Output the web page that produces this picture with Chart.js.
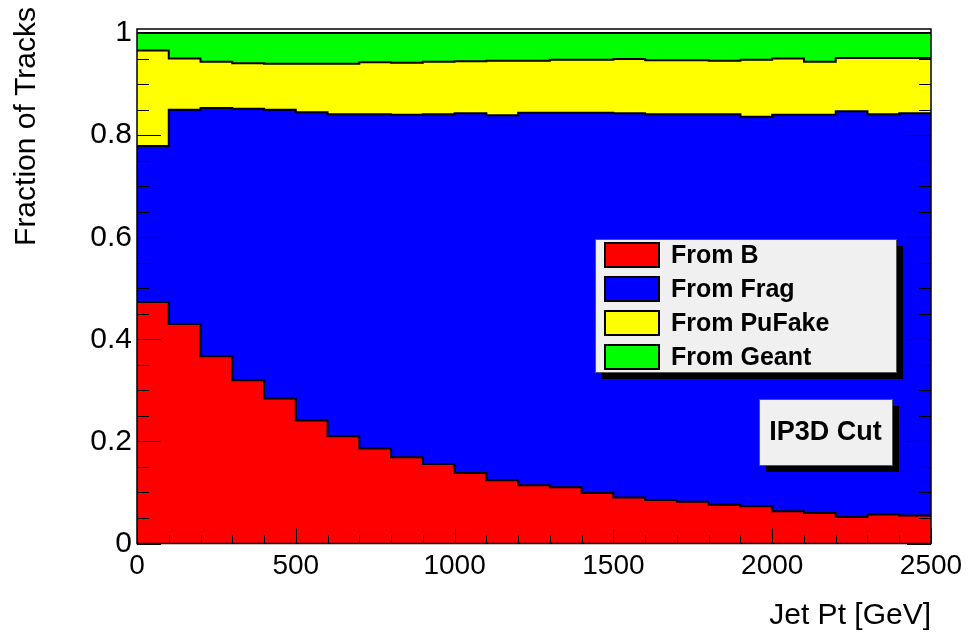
<!DOCTYPE html>
<html>
<head>
<meta charset="utf-8">
<script src="https://cdn.jsdelivr.net/npm/chart.js@4/dist/chart.umd.min.js"></script>
<style>
  html, body { margin: 0; padding: 0; background: #fff; }
  #wrap { position: relative; width: 969px; height: 634px; }
</style>
</head>
<body>
<div id="wrap"><canvas id="frac"></canvas></div>
<script>
// jet pt bin edges [GeV], 25 bins of 100 GeV
const ptEdges = [0, 100, 200, 300, 400, 500, 600, 700, 800, 900, 1000, 1100, 1200,
                 1300, 1400, 1500, 1600, 1700, 1800, 1900, 2000, 2100, 2200, 2300, 2400, 2500];

// track fractions per bin
const fromB = [0.473, 0.430, 0.367, 0.320, 0.284, 0.241, 0.210, 0.186, 0.169, 0.156, 0.138, 0.124, 0.114,
               0.110, 0.099, 0.090, 0.085, 0.082, 0.076, 0.073, 0.063, 0.060, 0.052, 0.057, 0.055];
const fromFrag = [0.306, 0.420, 0.486, 0.532, 0.566, 0.604, 0.631, 0.655, 0.671, 0.685, 0.705, 0.715, 0.730,
                  0.734, 0.745, 0.753, 0.756, 0.759, 0.765, 0.763, 0.777, 0.780, 0.795, 0.784, 0.788];
const fromPuFake = [0.187, 0.100, 0.091, 0.089, 0.090, 0.095, 0.099, 0.102, 0.102, 0.103, 0.102, 0.107, 0.102,
                    0.104, 0.104, 0.106, 0.106, 0.106, 0.105, 0.112, 0.110, 0.104, 0.104, 0.110, 0.108];
const fromGeant = [0.034, 0.050, 0.056, 0.059, 0.060, 0.060, 0.060, 0.057, 0.058, 0.056, 0.055, 0.054, 0.054,
                   0.052, 0.052, 0.051, 0.053, 0.053, 0.054, 0.052, 0.050, 0.056, 0.049, 0.049, 0.049];

const seriesNames = ['From B', 'From Frag', 'From PuFake', 'From Geant'];
const seriesValues = [fromB, fromFrag, fromPuFake, fromGeant];
const seriesColors = ['#ff0000', '#0000ff', '#ffff00', '#00ff00'];

const xTitle = 'Jet Pt [GeV]';
const yTitle = 'Fraction of Tracks';
const cutLabel = 'IP3D Cut';

const FONT = '"Liberation Sans", Arial, sans-serif';

// histogram as step line: one point per left edge, last bin closed at the upper edge
function stepPoints(vals) {
    let pts = [];
    for (let i = 0; i < ptEdges.length; i++) {
        pts.push({ x: ptEdges[i], y: vals[Math.min(i, vals.length - 1)] });
    }
    return pts;
}

const datasets = seriesValues.map((vals, i) => ({
    label: seriesNames[i],
    data: stepPoints(vals),
    stepped: true,
    fill: i === 0 ? 'origin' : '-1',
    backgroundColor: seriesColors[i],
    borderColor: '#000',
    borderWidth: 2,
    pointRadius: 0
}));

const rootStyle = {
    id: 'rootStyle',
    afterDatasetsDraw(chart) {
        const { ctx, chartArea: a, scales: { x, y } } = chart;
        ctx.save();
        ctx.strokeStyle = '#000';
        ctx.lineWidth = 1;
        ctx.beginPath();
        for (let i = 0; i <= 20; i++) {
            const py = Math.round(y.getPixelForValue(i * 0.05)) + 0.5;
            const len = i % 4 === 0 ? 24 : 12;
            ctx.moveTo(a.left, py); ctx.lineTo(a.left + len, py);
            ctx.moveTo(a.right, py); ctx.lineTo(a.right - len, py);
        }
        for (let v = 0; v <= 2500; v += 100) {
            const px = Math.round(x.getPixelForValue(v)) + 0.5;
            const len = v % 500 === 0 ? 15 : 8;
            ctx.moveTo(px, a.bottom); ctx.lineTo(px, a.bottom - len);
        }
        ctx.stroke();
        ctx.lineWidth = 1.5;
        ctx.strokeRect(a.left, a.top, a.right - a.left, a.bottom - a.top);
        ctx.restore();
    },
    afterDraw(chart) {
        const ctx = chart.ctx;
        ctx.save();

        // y title, top aligned like ROOT
        ctx.save();
        ctx.translate(27, 7);
        ctx.rotate(-Math.PI / 2);
        ctx.fillStyle = '#000';
        ctx.font = '30px ' + FONT;
        ctx.textAlign = 'right';
        ctx.textBaseline = 'middle';
        ctx.fillText(yTitle, 0, 0);
        ctx.restore();

        // legend box
        const lx = 595, ly = 239, lw = 301, lh = 133;
        ctx.fillStyle = '#000';
        ctx.fillRect(lx + 7, ly + 7, lw, lh);
        ctx.fillStyle = '#f0f0f0';
        ctx.fillRect(lx, ly, lw, lh);
        ctx.strokeStyle = '#555';
        ctx.lineWidth = 1;
        ctx.strokeRect(lx + 0.5, ly + 0.5, lw, lh);
        ctx.font = 'bold 25px ' + FONT;
        ctx.textBaseline = 'middle';
        ctx.textAlign = 'left';
        for (let i = 0; i < seriesNames.length; i++) {
            const ry = 255 + i * 34;
            ctx.fillStyle = seriesColors[i];
            ctx.fillRect(605, ry - 12, 54, 24);
            ctx.strokeStyle = '#000';
            ctx.lineWidth = 2;
            ctx.strokeRect(605, ry - 12, 54, 24);
            ctx.fillStyle = '#000';
            ctx.fillText(seriesNames[i], 671, ry + 1);
        }

        // cut label box
        const bx = 759, by = 399, bw = 133, bh = 66;
        ctx.fillStyle = '#000';
        ctx.fillRect(bx + 7, by + 7, bw, bh);
        ctx.fillStyle = '#f0f0f0';
        ctx.fillRect(bx, by, bw, bh);
        ctx.strokeStyle = '#555';
        ctx.lineWidth = 1;
        ctx.strokeRect(bx + 0.5, by + 0.5, bw, bh);
        ctx.fillStyle = '#000';
        ctx.font = 'bold 27px ' + FONT;
        ctx.textAlign = 'center';
        ctx.fillText(cutLabel, bx + bw / 2, by + bh / 2 + 1);

        ctx.restore();
    }
};

new Chart(document.getElementById('frac'), {
    type: 'line',
    data: { datasets: datasets },
    options: {
        responsive: true,
        maintainAspectRatio: false,
        animation: false,
        layout: { padding: { left: 0, right: 38, top: 29, bottom: 0 } },
        plugins: {
            legend: { display: false },
            tooltip: { enabled: false }
        },
        scales: {
            x: {
                type: 'linear',
                min: 0,
                max: 2500,
                grid: { display: false, drawTicks: false },
                border: { display: false },
                ticks: {
                    stepSize: 500,
                    autoSkip: false,
                    maxRotation: 0,
                    padding: 6,
                    color: '#000',
                    font: { family: FONT, size: 28 },
                    callback: v => String(v)
                },
                title: {
                    display: true,
                    text: xTitle,
                    align: 'end',
                    color: '#000',
                    font: { family: FONT, size: 30 },
                    padding: { top: 0, bottom: 0 }
                },
                afterFit(scale) { scale.height = 90.5; }
            },
            y: {
                stacked: true,
                min: 0,
                max: 1.008,
                grid: { display: false, drawTicks: false },
                border: { display: false },
                ticks: {
                    stepSize: 0.2,
                    includeBounds: false,
                    padding: 5,
                    color: '#000',
                    font: { family: FONT, size: 30 },
                    callback: v => String(+v.toFixed(2))
                },
                afterFit(scale) { scale.width = 137; }
            }
        }
    },
    plugins: [rootStyle]
});
</script>
</body>
</html>
